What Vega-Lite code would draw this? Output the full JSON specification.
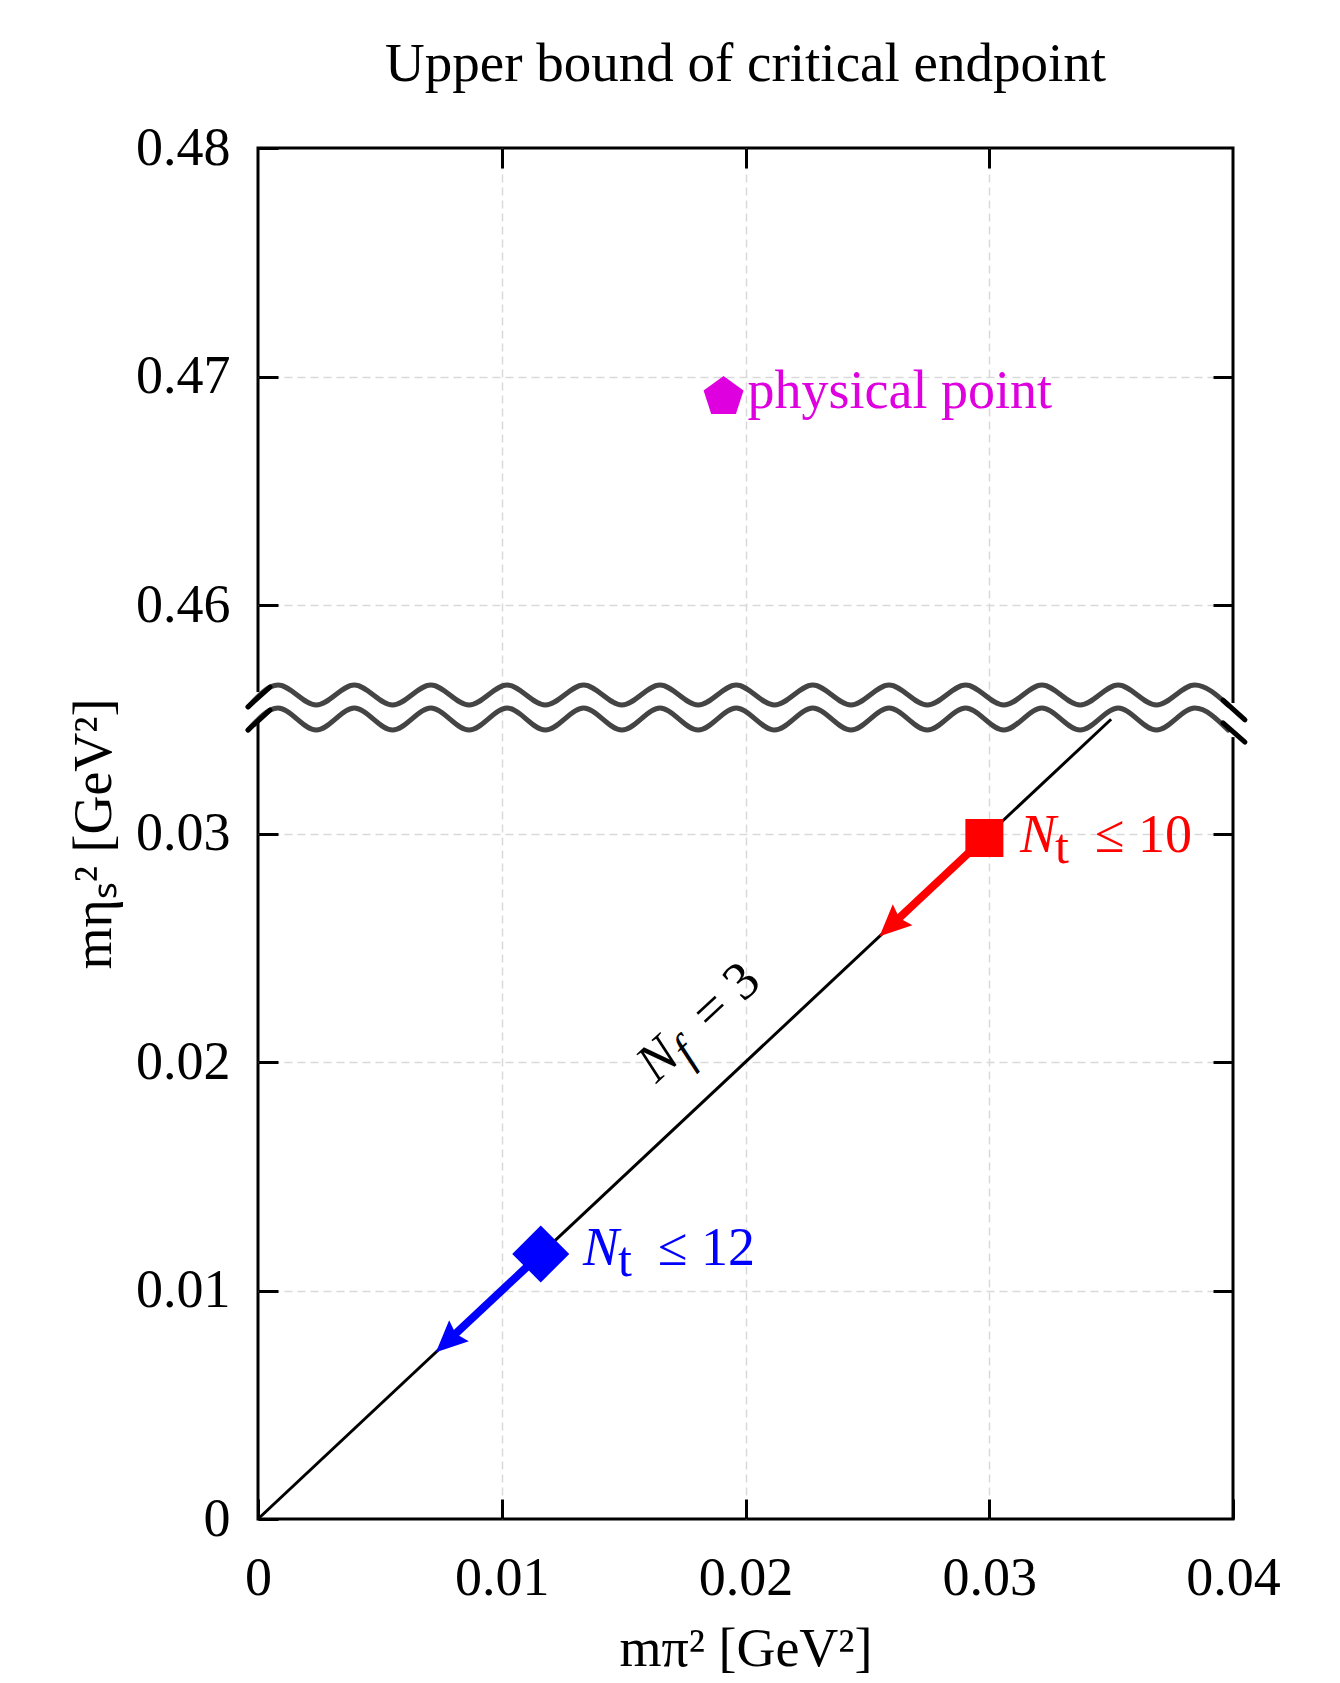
{
  "$schema": "https://vega.github.io/schema/vega-lite/v6.json",
  "width": 975,
  "height": 1371,
  "autosize": {"type": "none"},
  "padding": {"left": 258, "top": 148, "right": 107, "bottom": 164},
  "background": "white",
  "title": {"text": "Upper bound of critical endpoint", "font": "Liberation Serif", "fontSize": 55, "fontWeight": "normal", "color": "black", "anchor": "middle", "frame": "group", "baseline": "alphabetic", "offset": -15},
  "datasets": {
    "diag": [{"m_pi2": 0, "m_etas2": 0}, {"m_pi2": 0.035, "m_etas2": 0.035}],
    "markers": [
      {"series": "Nt ≤ 10", "m_pi2": 0.0298, "m_etas2": 0.0298},
      {"series": "Nt ≤ 12", "m_pi2": 0.0116, "m_etas2": 0.0116},
      {"series": "physical point", "m_pi2": 0.0191, "m_etas2": 0.4691}
    ],
    "shafts": [
      {"series": "Nt ≤ 10", "from_pi2": 0.0298, "from_etas2": 0.0298, "to_pi2": 0.0262, "to_etas2": 0.0262},
      {"series": "Nt ≤ 12", "from_pi2": 0.0116, "from_etas2": 0.0116, "to_pi2": 0.008, "to_etas2": 0.008}
    ],
    "heads": [
      {"series": "Nt ≤ 10", "m_pi2": 0.0255, "m_etas2": 0.0255},
      {"series": "Nt ≤ 12", "m_pi2": 0.0073, "m_etas2": 0.0073}
    ],
    "labels": [
      {"series": "Nt ≤ 10", "m_pi2": 0.03126, "m_etas2": 0.02919, "bound": "≤ 10"},
      {"series": "Nt ≤ 12", "m_pi2": 0.01333, "m_etas2": 0.01112, "bound": "≤ 12"}
    ],
    "nf": [{"m_pi2": 0.0164, "m_etas2": 0.0191, "rest": "= 3"}],
    "waves": [
      {"wave": "upper", "m_pi2": -0.0004, "m_etas2": 0.45554},
      {"wave": "upper", "m_pi2": 0.00082, "m_etas2": 0.4565},
      {"wave": "upper", "m_pi2": 0.00239, "m_etas2": 0.45562},
      {"wave": "upper", "m_pi2": 0.00395, "m_etas2": 0.4565},
      {"wave": "upper", "m_pi2": 0.00552, "m_etas2": 0.45562},
      {"wave": "upper", "m_pi2": 0.00709, "m_etas2": 0.4565},
      {"wave": "upper", "m_pi2": 0.00866, "m_etas2": 0.45562},
      {"wave": "upper", "m_pi2": 0.01022, "m_etas2": 0.4565},
      {"wave": "upper", "m_pi2": 0.01179, "m_etas2": 0.45562},
      {"wave": "upper", "m_pi2": 0.01336, "m_etas2": 0.4565},
      {"wave": "upper", "m_pi2": 0.01493, "m_etas2": 0.45562},
      {"wave": "upper", "m_pi2": 0.01649, "m_etas2": 0.4565},
      {"wave": "upper", "m_pi2": 0.01806, "m_etas2": 0.45562},
      {"wave": "upper", "m_pi2": 0.01962, "m_etas2": 0.4565},
      {"wave": "upper", "m_pi2": 0.02119, "m_etas2": 0.45562},
      {"wave": "upper", "m_pi2": 0.02276, "m_etas2": 0.4565},
      {"wave": "upper", "m_pi2": 0.02433, "m_etas2": 0.45562},
      {"wave": "upper", "m_pi2": 0.02589, "m_etas2": 0.4565},
      {"wave": "upper", "m_pi2": 0.02746, "m_etas2": 0.45562},
      {"wave": "upper", "m_pi2": 0.02903, "m_etas2": 0.4565},
      {"wave": "upper", "m_pi2": 0.0306, "m_etas2": 0.45562},
      {"wave": "upper", "m_pi2": 0.03216, "m_etas2": 0.4565},
      {"wave": "upper", "m_pi2": 0.03373, "m_etas2": 0.45562},
      {"wave": "upper", "m_pi2": 0.03529, "m_etas2": 0.4565},
      {"wave": "upper", "m_pi2": 0.03686, "m_etas2": 0.45562},
      {"wave": "upper", "m_pi2": 0.03843, "m_etas2": 0.4565},
      {"wave": "upper", "m_pi2": 0.0398, "m_etas2": 0.45562},
      {"wave": "lower", "m_pi2": -0.0004, "m_etas2": 0.03453},
      {"wave": "lower", "m_pi2": 0.00082, "m_etas2": 0.45549},
      {"wave": "lower", "m_pi2": 0.00239, "m_etas2": 0.03453},
      {"wave": "lower", "m_pi2": 0.00395, "m_etas2": 0.45549},
      {"wave": "lower", "m_pi2": 0.00552, "m_etas2": 0.03453},
      {"wave": "lower", "m_pi2": 0.00709, "m_etas2": 0.45549},
      {"wave": "lower", "m_pi2": 0.00866, "m_etas2": 0.03453},
      {"wave": "lower", "m_pi2": 0.01022, "m_etas2": 0.45549},
      {"wave": "lower", "m_pi2": 0.01179, "m_etas2": 0.03453},
      {"wave": "lower", "m_pi2": 0.01336, "m_etas2": 0.45549},
      {"wave": "lower", "m_pi2": 0.01493, "m_etas2": 0.03453},
      {"wave": "lower", "m_pi2": 0.01649, "m_etas2": 0.45549},
      {"wave": "lower", "m_pi2": 0.01806, "m_etas2": 0.03453},
      {"wave": "lower", "m_pi2": 0.01962, "m_etas2": 0.45549},
      {"wave": "lower", "m_pi2": 0.02119, "m_etas2": 0.03453},
      {"wave": "lower", "m_pi2": 0.02276, "m_etas2": 0.45549},
      {"wave": "lower", "m_pi2": 0.02433, "m_etas2": 0.03453},
      {"wave": "lower", "m_pi2": 0.02589, "m_etas2": 0.45549},
      {"wave": "lower", "m_pi2": 0.02746, "m_etas2": 0.03453},
      {"wave": "lower", "m_pi2": 0.02903, "m_etas2": 0.45549},
      {"wave": "lower", "m_pi2": 0.0306, "m_etas2": 0.03453},
      {"wave": "lower", "m_pi2": 0.03216, "m_etas2": 0.45549},
      {"wave": "lower", "m_pi2": 0.03373, "m_etas2": 0.03453},
      {"wave": "lower", "m_pi2": 0.03529, "m_etas2": 0.45549},
      {"wave": "lower", "m_pi2": 0.03686, "m_etas2": 0.03453},
      {"wave": "lower", "m_pi2": 0.03843, "m_etas2": 0.45549},
      {"wave": "lower", "m_pi2": 0.0398, "m_etas2": 0.03453}
    ],
    "slashes": [
      {"from_pi2": -0.00041, "from_etas2": 0.45554, "to_pi2": 0.00049, "to_etas2": 0.45641},
      {"from_pi2": -0.00041, "from_etas2": 0.03453, "to_pi2": 0.00049, "to_etas2": 0.4554},
      {"from_pi2": 0.03959, "from_etas2": 0.45584, "to_pi2": 0.04049, "to_etas2": 0.03497},
      {"from_pi2": 0.03959, "from_etas2": 0.03484, "to_pi2": 0.04049, "to_etas2": 0.034}
    ],
    "gaps": [
      {"from_pi2": -0.00025, "to_pi2": 0.00025, "from_etas2": 0.45619, "to_etas2": 0.03488},
      {"from_pi2": 0.03975, "to_pi2": 0.04025, "from_etas2": 0.45571, "to_etas2": 0.03422}
    ]
  },
  "resolve": {"axis": {"x": "independent", "y": "independent"}},
  "layer": [
    {
      "data": {"name": "diag"},
      "mark": {"type": "line", "color": "black", "strokeWidth": 3},
      "encoding": {
        "x": {"field": "m_pi2", "type": "quantitative",
          "scale": {"domain": [0, 0.04], "nice": false, "zero": false},
          "axis": {"orient": "bottom", "values": [0, 0.01, 0.02, 0.03, 0.04], "format": ".2~f", "title": "mπ² [GeV²]",
            "domain": false, "tickSize": -20, "tickWidth": 3, "tickColor": "black",
            "labelFont": "Liberation Serif", "labelFontSize": 54, "labelColor": "black", "labelPadding": 52,
            "labelFlush": false, "labelOverlap": false, "labelBound": false,
            "grid": true, "gridColor": "#d9d9d9", "gridDash": [8, 5], "gridWidth": 1.5,
            "gridOpacity": {"condition": {"test": "datum.value === 0 || datum.value === 0.04", "value": 0}, "value": 1},
            "titleFont": "Liberation Serif", "titleFontSize": 54, "titleFontWeight": "normal", "titleColor": "black", "titlePadding": 17}},
        "y": {"field": "m_etas2", "type": "quantitative",
          "scale": {"domain": [0, 0.035, 0.455, 0.48], "range": [1371, 571.25, 571.25, 0], "nice": false, "zero": false},
          "axis": {"orient": "left", "values": [0, 0.01, 0.02, 0.03, 0.46, 0.47, 0.48], "format": ".2~f", "title": "mηₛ² [GeV²]",
            "domain": false, "tickSize": -20, "tickWidth": 3, "tickColor": "black",
            "labelFont": "Liberation Serif", "labelFontSize": 54, "labelColor": "black", "labelPadding": 48,
            "labelFlush": false, "labelOverlap": false, "labelBound": false,
            "grid": true, "gridColor": "#d9d9d9", "gridDash": [8, 5], "gridWidth": 1.5,
            "gridOpacity": {"condition": {"test": "datum.value === 0 || datum.value === 0.48", "value": 0}, "value": 1},
            "titleFont": "Liberation Serif", "titleFontSize": 54, "titleFontWeight": "normal", "titleColor": "black", "titlePadding": 14}}
      }
    },
    {
      "data": {"name": "gaps"},
      "mark": {"type": "rect", "color": "white", "opacity": 1},
      "encoding": {
        "x": {"field": "from_pi2", "type": "quantitative", "axis": null},
        "x2": {"field": "to_pi2"},
        "y": {"field": "from_etas2", "type": "quantitative", "axis": null},
        "y2": {"field": "to_etas2"}
      }
    },
    {
      "data": {"name": "waves"},
      "mark": {"type": "line", "color": "#444444", "strokeWidth": 5, "interpolate": "monotone", "strokeJoin": "round", "strokeCap": "round"},
      "encoding": {
        "x": {"field": "m_pi2", "type": "quantitative", "axis": null},
        "y": {"field": "m_etas2", "type": "quantitative", "axis": null},
        "detail": {"field": "wave", "type": "nominal"}
      }
    },
    {
      "data": {"name": "slashes"},
      "mark": {"type": "rule", "color": "black", "strokeWidth": 5, "strokeCap": "round"},
      "encoding": {
        "x": {"field": "from_pi2", "type": "quantitative", "axis": null},
        "x2": {"field": "to_pi2"},
        "y": {"field": "from_etas2", "type": "quantitative", "axis": null},
        "y2": {"field": "to_etas2"}
      }
    },
    {
      "data": {"name": "shafts"},
      "mark": {"type": "rule", "strokeWidth": 8, "strokeCap": "butt"},
      "encoding": {
        "x": {"field": "from_pi2", "type": "quantitative",
          "axis": {"orient": "top", "values": [0.01, 0.02, 0.03], "labels": false, "domain": false, "grid": false, "title": null, "tickSize": -20, "tickWidth": 3, "tickColor": "black"}},
        "x2": {"field": "to_pi2"},
        "y": {"field": "from_etas2", "type": "quantitative",
          "axis": {"orient": "right", "values": [0.01, 0.02, 0.03, 0.46, 0.47], "labels": false, "domain": false, "grid": false, "title": null, "tickSize": -20, "tickWidth": 3, "tickColor": "black"}},
        "y2": {"field": "to_etas2"},
        "color": {"field": "series", "type": "nominal", "legend": null,
          "scale": {"domain": ["Nt ≤ 10", "Nt ≤ 12", "physical point"], "range": ["#ff0000", "#0000ff", "#de00de"]}}
      }
    },
    {
      "data": {"name": "heads"},
      "mark": {"type": "point", "shape": "M0,0L0.64,1.4L0,1.2L-0.64,1.4Z", "angle": 227, "size": 2025, "filled": true, "opacity": 1},
      "encoding": {
        "x": {"field": "m_pi2", "type": "quantitative", "axis": null},
        "y": {"field": "m_etas2", "type": "quantitative", "axis": null},
        "color": {"field": "series", "type": "nominal", "legend": null}
      }
    },
    {
      "data": {"name": "markers"},
      "transform": [{"filter": "datum.series === 'Nt ≤ 10'"}],
      "mark": {"type": "point", "shape": "square", "size": 1444, "filled": true, "opacity": 1},
      "encoding": {
        "x": {"field": "m_pi2", "type": "quantitative", "axis": null},
        "y": {"field": "m_etas2", "type": "quantitative", "axis": null},
        "color": {"field": "series", "type": "nominal", "legend": null}
      }
    },
    {
      "data": {"name": "markers"},
      "transform": [{"filter": "datum.series === 'Nt ≤ 12'"}],
      "mark": {"type": "point", "shape": "diamond", "size": 3249, "filled": true, "opacity": 1},
      "encoding": {
        "x": {"field": "m_pi2", "type": "quantitative", "axis": null},
        "y": {"field": "m_etas2", "type": "quantitative", "axis": null},
        "color": {"field": "series", "type": "nominal", "legend": null}
      }
    },
    {
      "data": {"name": "markers"},
      "transform": [{"filter": "datum.series === 'physical point'"}],
      "mark": {"type": "point", "shape": "M0,-1L0.951,-0.309L0.588,0.809L-0.588,0.809L-0.951,-0.309Z", "size": 1764, "filled": true, "opacity": 1},
      "encoding": {
        "x": {"field": "m_pi2", "type": "quantitative", "axis": null},
        "y": {"field": "m_etas2", "type": "quantitative", "axis": null},
        "color": {"field": "series", "type": "nominal", "legend": null}
      }
    },
    {
      "data": {"name": "markers"},
      "transform": [{"filter": "datum.series === 'physical point'"}],
      "mark": {"type": "text", "font": "Liberation Serif", "fontSize": 54, "align": "left", "baseline": "alphabetic", "dx": 24, "dy": 11},
      "encoding": {
        "x": {"field": "m_pi2", "type": "quantitative", "axis": null},
        "y": {"field": "m_etas2", "type": "quantitative", "axis": null},
        "text": {"field": "series"},
        "color": {"field": "series", "type": "nominal", "legend": null}
      }
    },
    {
      "data": {"name": "labels"},
      "mark": {"type": "text", "font": "Liberation Serif", "fontSize": 54, "fontStyle": "italic", "align": "left", "baseline": "alphabetic"},
      "encoding": {
        "x": {"field": "m_pi2", "type": "quantitative", "axis": null},
        "y": {"field": "m_etas2", "type": "quantitative", "axis": null},
        "text": {"value": "N"},
        "color": {"field": "series", "type": "nominal", "legend": null}
      }
    },
    {
      "data": {"name": "labels"},
      "mark": {"type": "text", "font": "Liberation Serif", "fontSize": 50, "align": "left", "baseline": "alphabetic", "dx": 35, "dy": 11},
      "encoding": {
        "x": {"field": "m_pi2", "type": "quantitative", "axis": null},
        "y": {"field": "m_etas2", "type": "quantitative", "axis": null},
        "text": {"value": "t"},
        "color": {"field": "series", "type": "nominal", "legend": null}
      }
    },
    {
      "data": {"name": "labels"},
      "mark": {"type": "text", "font": "Liberation Serif", "fontSize": 54, "align": "left", "baseline": "alphabetic", "dx": 75},
      "encoding": {
        "x": {"field": "m_pi2", "type": "quantitative", "axis": null},
        "y": {"field": "m_etas2", "type": "quantitative", "axis": null},
        "text": {"field": "bound"},
        "color": {"field": "series", "type": "nominal", "legend": null}
      }
    },
    {
      "data": {"name": "nf"},
      "mark": {"type": "text", "font": "Liberation Serif", "fontSize": 54, "fontStyle": "italic", "align": "left", "baseline": "alphabetic", "angle": 317, "dx": -2, "color": "black"},
      "encoding": {
        "x": {"field": "m_pi2", "type": "quantitative", "axis": null},
        "y": {"field": "m_etas2", "type": "quantitative", "axis": null},
        "text": {"value": "N"}
      }
    },
    {
      "data": {"name": "nf"},
      "mark": {"type": "text", "font": "Liberation Serif", "fontSize": 46, "fontStyle": "italic", "align": "left", "baseline": "alphabetic", "angle": 317, "dx": 34, "dy": 11, "color": "black"},
      "encoding": {
        "x": {"field": "m_pi2", "type": "quantitative", "axis": null},
        "y": {"field": "m_etas2", "type": "quantitative", "axis": null},
        "text": {"value": "f"}
      }
    },
    {
      "data": {"name": "nf"},
      "mark": {"type": "text", "font": "Liberation Serif", "fontSize": 54, "align": "left", "baseline": "alphabetic", "angle": 317, "dx": 73, "color": "black"},
      "encoding": {
        "x": {"field": "m_pi2", "type": "quantitative", "axis": null},
        "y": {"field": "m_etas2", "type": "quantitative", "axis": null},
        "text": {"field": "rest"}
      }
    }
  ],
  "config": {"view": {"stroke": "black", "strokeWidth": 3}}
}
